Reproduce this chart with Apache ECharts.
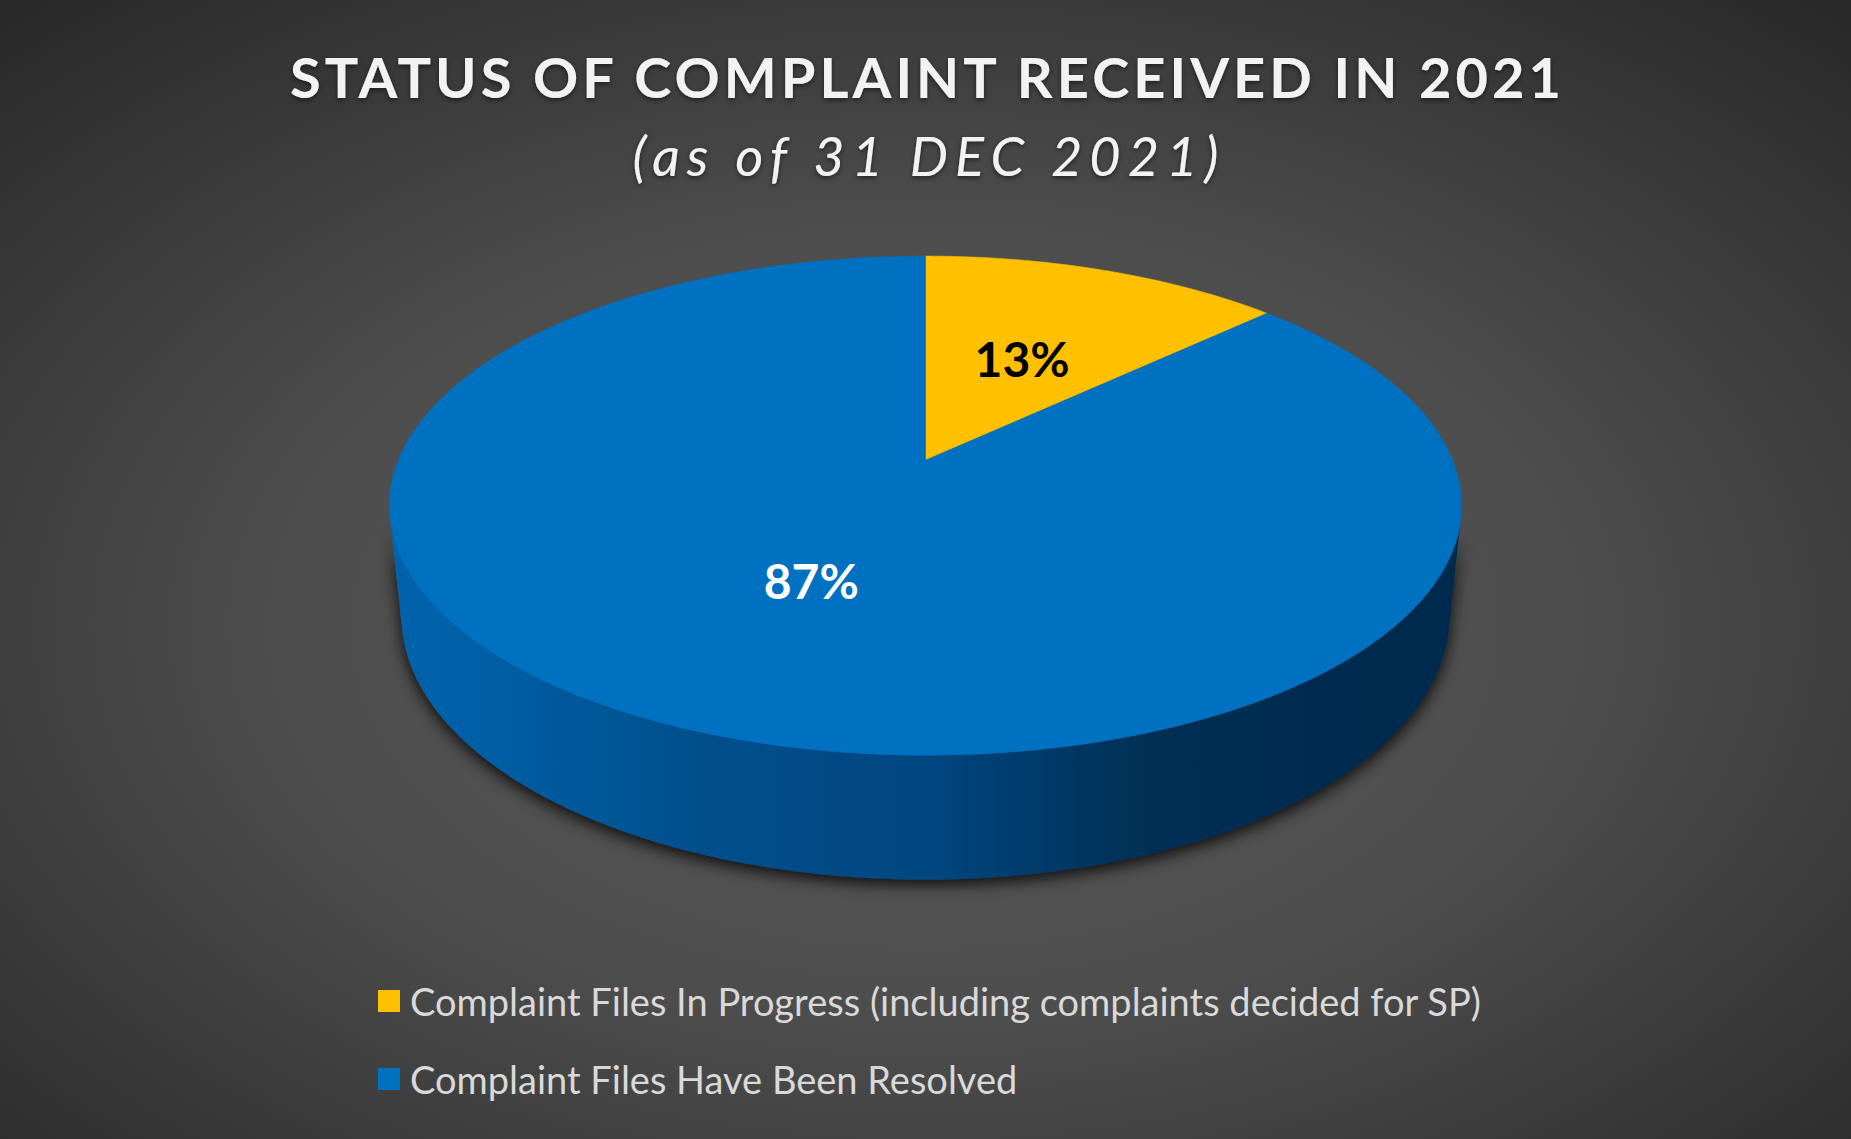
<!DOCTYPE html>
<html>
<head>
<meta charset="utf-8">
<title>Status of complaint received in 2021</title>
<script src="https://cdn.jsdelivr.net/npm/echarts@6/dist/echarts.min.js"></script>
<style>
  html, body { margin: 0; padding: 0; background: #2a2a2a; }
  #chart { width: 1851px; height: 1139px; }
</style>
</head>
<body>
<div id="chart"></div>
<script>
// slices, clockwise from 12 o'clock
const categories = [
    'Complaint Files In Progress (including complaints decided for SP)',
    'Complaint Files Have Been Resolved'
]
const shares = [13, 87]

const titleText = 'STATUS OF COMPLAINT RECEIVED IN 2021'
const subtitleText = '(as of 31 DEC 2021)'

const sliceColors = ['#FFC000', '#0070C0']
const labelColors = ['#000000', '#ffffff']
// side wall shading, lit from the left
const sideStops = [0.04, 0.26, 0.51, 0.57, 0.71, 0.92]
const sideShades = [
    ['#e6ad00', '#cf9b00', '#b58800', '#a57c00', '#8c6900', '#7f5f00'],
    ['#0062aa', '#00518f', '#00467f', '#003e70', '#002f55', '#002b4e']
]

// camera looking at the pie, pie radius is the unit
const FOCAL = 2571
const DIST = 4.878
const TILT = Math.asin(0.4577)
const THICK = 0.237

const total = shares.reduce((a, b) => a + b, 0)

function project(cx, cy, ang, r, h) {
    let xw = r * Math.sin(ang)
    let d = -r * Math.cos(ang)
    let zc = DIST - d * Math.cos(TILT) - h * Math.sin(TILT)
    let v = -d * Math.sin(TILT) + h * Math.cos(TILT)
    return [cx + FOCAL * xw / zc, cy - FOCAL * v / zc]
}

function rim(cx, cy, a0, a1, h) {
    let pts = []
    let n = Math.max(2, Math.ceil((a1 - a0) / (Math.PI / 360)))
    for (let i = 0; i <= n; i++) {
        pts.push(project(cx, cy, a0 + (a1 - a0) * i / n, 1, h))
    }
    return pts
}

function renderSlice(idx) {
    return function (params, api) {
        let cx = api.getWidth() / 2
        let cy = api.getHeight() * 0.404
        let before = shares.slice(0, idx).reduce((a, b) => a + b, 0)
        let a0 = before / total * Math.PI * 2
        let a1 = (before + api.value(0)) / total * Math.PI * 2
        let children = []

        // only the part of the wall that faces the camera
        let vis = Math.acos(-1 / (DIST * Math.cos(TILT)))
        let s0 = Math.max(a0, vis)
        let s1 = Math.min(a1, Math.PI * 2 - vis)
        if (s1 > s0) {
            let top = rim(cx, cy, s0, s1, 0)
            let bottom = rim(cx, cy, s0, s1, -THICK).reverse()
            let xl = project(cx, cy, Math.PI * 1.5, 1, 0)[0] - 6
            let xr = project(cx, cy, Math.PI * 0.5, 1, 0)[0] + 6
            let grad = new echarts.graphic.LinearGradient(xl, 0, xr, 0,
                sideStops.map((o, i) => ({offset: o, color: sideShades[idx][i]})), true)
            children.push({
                type: 'polygon',
                z2: 1,
                shape: {points: top.concat(bottom)},
                style: {
                    fill: grad,
                    shadowBlur: 16,
                    shadowOffsetY: 5,
                    shadowColor: 'rgba(0,0,0,0.85)'
                }
            })
        }

        children.push({
            type: 'polygon',
            z2: 10,
            shape: {points: [[cx, cy]].concat(rim(cx, cy, a0, a1, 0))},
            style: {fill: sliceColors[idx], stroke: sliceColors[idx], lineWidth: 0.6}
        })

        let mid = project(cx, cy, (a0 + a1) / 2, 0.5, 0)
        children.push({
            type: 'text',
            z2: 20,
            style: {
                x: mid[0],
                y: mid[1],
                text: Math.round(api.value(0) / total * 100) + '%',
                fill: labelColors[idx],
                fontFamily: 'Lato',
                fontWeight: 'bold',
                fontSize: 48,
                align: 'center',
                verticalAlign: 'middle'
            }
        })
        return {type: 'group', children: children}
    }
}

let chart = echarts.init(document.getElementById('chart'), null, {renderer: 'svg'})

chart.setOption({
    animation: false,
    backgroundColor: {
        type: 'radial', x: 0.5, y: 0.55, r: 0.78,
        colorStops: [
            {offset: 0, color: '#5a5a5a'},
            {offset: 0.45, color: '#4d4d4d'},
            {offset: 1, color: '#242424'}
        ]
    },
    title: [{
        text: titleText,
        left: 'center',
        top: 76,
        padding: 0,
        textVerticalAlign: 'middle',
        textStyle: {
            color: '#f2f2f2',
            fontFamily: 'Lato',
            fontWeight: 'bold',
            fontSize: 56,
            textShadowColor: 'rgba(0,0,0,0.55)',
            textShadowBlur: 5,
            textShadowOffsetY: 2
        }
    }, {
        text: subtitleText,
        left: 'center',
        top: 155,
        padding: 0,
        textVerticalAlign: 'middle',
        textStyle: {
            color: '#f2f2f2',
            fontFamily: 'Lato',
            fontStyle: 'italic',
            fontWeight: 'normal',
            fontSize: 54,
            textShadowColor: 'rgba(0,0,0,0.55)',
            textShadowBlur: 5,
            textShadowOffsetY: 2
        }
    }],
    legend: {
        data: categories,
        orient: 'vertical',
        left: 378,
        top: 981,
        padding: 0,
        icon: 'rect',
        itemWidth: 22,
        itemHeight: 22,
        itemGap: 38,
        selectedMode: false,
        textStyle: {
            color: '#d9d9d9',
            fontFamily: 'Lato',
            fontSize: 38,
            lineHeight: 40,
            padding: [0, 0, 0, 5]
        }
    },
    series: categories.map((name, i) => ({
        type: 'custom',
        name: name,
        coordinateSystem: 'none',
        silent: true,
        itemStyle: {color: sliceColors[i]},
        data: [shares[i]],
        renderItem: renderSlice(i)
    }))
})

// the headings are letter-spaced in the original
function spaceHeadings() {
    let fits = {}
    fits[titleText] = 1271
    fits[subtitleText] = 586
    document.querySelectorAll('#chart svg text').forEach(t => {
        let want = fits[t.textContent]
        if (want) {
            t.setAttribute('textLength', want)
            t.setAttribute('lengthAdjust', 'spacing')
        }
    })
}

chart.on('finished', spaceHeadings)
chart.getZr().flush()
spaceHeadings()
</script>
</body>
</html>
